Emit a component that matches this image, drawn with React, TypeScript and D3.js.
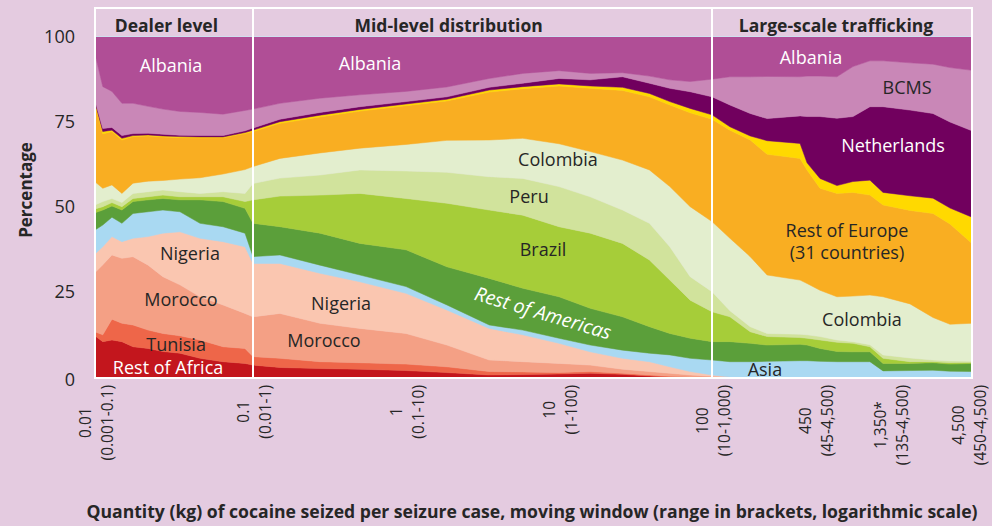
import React from 'react';
import * as d3 from 'd3';

// seizure size (kg), centre of the moving window
const sizes = [
  0.01, 0.0112, 0.0128, 0.0148, 0.0174, 0.0217, 0.0269, 0.0345, 0.0462, 0.0646, 0.089,
  0.1, 0.15, 0.274, 0.5, 1, 1.85, 3.5, 5.8, 10, 16, 26, 39, 53, 72, 100,
  130, 175, 224, 363, 402, 486, 623, 788, 1010, 1223, 1816, 2542, 3260, 4500,
];

// shares (%) by country of departure, bottom to top of the stack
const restOfAfrica = [12.1, 10.4, 10.9, 10.4, 8.9, 8.4, 7.5, 7.0, 5.5, 4.5, 4.0, 3.5, 2.8, 2.5, 2.3, 1.9, 1.3, 0.6, 0.7, 0.9, 1.1, 0.8, 0.3, 0, 0, 0, 0, 0, 0, 0, 0, 0, 0, 0, 0, 0, 0, 0, 0, 0];
const tunisia = [1.2, 2.0, 6.1, 5.4, 6.4, 5.4, 5.3, 5.1, 5.4, 4.4, 4.4, 2.5, 2.7, 2.0, 1.9, 1.9, 1.7, 1.0, 0.8, 0.4, 0.5, 0.3, 0.3, 0.2, 0, 0, 0, 0, 0, 0, 0, 0, 0, 0, 0, 0, 0, 0, 0, 0];
const morocco = [17.4, 20.6, 18.9, 19.1, 20.1, 19.1, 16.7, 15.0, 12.7, 12.3, 10.3, 11.7, 13.2, 11.3, 10.1, 9.0, 6.4, 3.4, 3.0, 2.7, 1.9, 1.2, 1.0, 0.9, 0.6, 0.2, 0, 0, 0, 0, 0, 0, 0, 0, 0, 0, 0, 0, 0, 0];
const nigeria = [5.5, 5.3, 5.4, 4.9, 5.4, 8.4, 12.8, 15.6, 17.2, 18.6, 19.6, 15.7, 14.7, 14.7, 13.7, 11.8, 10.3, 9.3, 7.9, 5.9, 3.9, 3.2, 2.9, 1.9, 1.0, 0.4, 0, 0, 0, 0, 0, 0, 0, 0, 0, 0, 0, 0, 0, 0];
const asia = [7.0, 6.4, 5.7, 5.4, 7.3, 7.3, 6.8, 5.9, 4.4, 4.4, 4.0, 2.0, 2.5, 2.4, 2.0, 2.0, 1.5, 1.0, 1.4, 1.5, 2.0, 2.4, 2.5, 3.5, 3.9, 4.4, 4.5, 4.5, 4.6, 4.8, 4.8, 4.6, 4.5, 4.5, 4.5, 1.8, 1.9, 2.0, 1.7, 1.6];
const restOfAmericas = [5.1, 4.4, 3.3, 3.9, 3.5, 3.5, 3.4, 3.5, 6.9, 7.4, 7.3, 9.8, 8.3, 9.4, 9.3, 10.8, 11.2, 13.7, 12.3, 12.2, 10.8, 9.8, 7.8, 6.3, 5.9, 5.4, 5.9, 5.4, 4.8, 4.8, 4.6, 3.8, 3.0, 2.9, 2.9, 2.2, 2.1, 2.2, 2.1, 2.4];
const brazil = [1.1, 1.0, 1.0, 1.0, 0.9, 0.9, 1.0, 0.9, 0.9, 1.4, 2.0, 6.9, 9.0, 11.2, 14.7, 15.1, 18.7, 20.1, 21.5, 20.6, 22.1, 21.6, 19.6, 15.7, 11.2, 8.8, 7.3, 3.4, 2.5, 2.0, 2.0, 2.5, 2.7, 2.5, 1.5, 1.5, 0.5, 0.3, 0.4, 0.3];
const peru = [1.2, 1.5, 1.2, 1.2, 1.5, 1.5, 1.5, 1.5, 1.0, 1.5, 2.4, 4.8, 5.3, 5.9, 6.9, 8.1, 9.1, 9.8, 10.8, 11.8, 10.7, 9.8, 10.8, 9.8, 6.9, 5.9, 1.8, 1.5, 0.9, 1.0, 1.0, 1.0, 0.7, 0.5, 0.6, 1.0, 1.1, 0.5, 0.5, 0.3];
const colombia = [6.8, 3.9, 4.0, 2.7, 3.0, 3.1, 2.8, 3.7, 4.6, 5.2, 7.0, 5.0, 5.8, 6.5, 6.4, 7.8, 9.4, 10.8, 11.8, 12.6, 13.3, 14.7, 15.7, 17.7, 20.6, 20.6, 21.3, 20.6, 17.2, 15.9, 15.1, 13.6, 12.7, 13.4, 14.6, 17.1, 15.9, 12.5, 10.8, 11.2];
const restOfEurope = [22.6, 16.0, 15.7, 15.7, 13.7, 13.3, 12.8, 12.2, 11.7, 10.7, 10.6, 10.3, 10.3, 10.6, 10.9, 11.4, 11.6, 14.1, 14.6, 17.0, 18.6, 20.5, 21.5, 24.0, 27.6, 30.1, 31.8, 34.3, 35.5, 35.8, 33.4, 30.0, 30.4, 30.5, 29.4, 27.0, 27.5, 30.6, 29.5, 23.5];
const yellowBand = [0.7, 0.7, 0.4, 0.5, 0.3, 0.3, 0.3, 0.3, 0.3, 0.2, 0.3, 0.4, 0.5, 0.5, 0.5, 0.5, 0.5, 0.6, 0.6, 0.6, 0.7, 0.9, 1.0, 1.0, 1.3, 1.3, 1.0, 1.2, 4.0, 4.4, 2.1, 2.9, 2.3, 3.2, 4.4, 3.7, 4.3, 4.5, 4.7, 7.7];
const netherlands = [0.6, 0.9, 0.8, 0.8, 0.6, 0.5, 0.5, 0.4, 0.4, 0.4, 0.5, 0.6, 0.7, 0.8, 0.8, 0.7, 0.7, 0.8, 1.0, 1.6, 1.8, 3.1, 3.0, 3.9, 4.9, 5.3, 6.4, 6.6, 6.5, 8.1, 13.6, 18.2, 19.8, 19.1, 21.6, 25.2, 25.2, 24.9, 25.3, 25.4];
const bcms = [13.7, 12.3, 10.6, 9.5, 8.9, 7.9, 7.4, 7.0, 6.8, 6.3, 6.0, 5.6, 4.7, 4.2, 3.5, 3.0, 2.9, 2.6, 2.9, 2.3, 1.9, 1.2, 2.1, 2.5, 3.0, 5.2, 8.3, 10.8, 12.4, 11.5, 11.9, 11.9, 12.2, 14.7, 13.5, 13.5, 13.9, 14.5, 16.0, 17.8];
const albania = [5.0, 14.6, 16.0, 19.5, 19.5, 20.4, 21.2, 21.9, 22.2, 22.7, 21.6, 21.2, 19.5, 18.0, 17.0, 16.0, 14.7, 12.2, 10.7, 9.9, 10.7, 10.5, 11.5, 12.6, 13.1, 12.4, 11.7, 11.7, 11.6, 11.7, 11.5, 11.5, 11.7, 8.7, 7.0, 7.0, 7.6, 8.0, 9.0, 9.8];

const series = [
  { key: 'restOfAfrica', values: restOfAfrica, color: '#C3161D' },
  { key: 'tunisia', values: tunisia, color: '#EE6649' },
  { key: 'morocco', values: morocco, color: '#F4A085' },
  { key: 'nigeria', values: nigeria, color: '#FAC6B0' },
  { key: 'asia', values: asia, color: '#A9D9F2' },
  { key: 'restOfAmericas', values: restOfAmericas, color: '#5B9F3A' },
  { key: 'brazil', values: brazil, color: '#A6CD39' },
  { key: 'peru', values: peru, color: '#D1E39C' },
  { key: 'colombia', values: colombia, color: '#E3EECE' },
  { key: 'restOfEurope', values: restOfEurope, color: '#F9AE22' },
  { key: 'yellowBand', values: yellowBand, color: '#FFD900' },
  { key: 'netherlands', values: netherlands, color: '#71005E' },
  { key: 'bcms', values: bcms, color: '#C987B7' },
  { key: 'albania', values: albania, color: '#B04E96' },
];

const yTicks = [0, 25, 50, 75, 100];
const xTickValues = [0.01, 0.1, 1, 10, 100, 450, 1350, 4500];
const xTickLabels = ['0.01', '0.1', '1', '10', '100', '450', '1,350*', '4,500'];
const xTickRanges = ['(0.001-0.1)', '(0.01-1)', '(0.1-10)', '(1-100)', '(10-1,000)', '(45-4,500)', '(135-4,500)', '(450-4,500)'];

const sections = [
  { name: 'Dealer level', labelAt: 0.0283 },
  { name: 'Mid-level distribution', labelAt: 1.9 },
  { name: 'Large-scale trafficking', labelAt: 614 },
];

// [text, kg, percent, light text?]
const areaLabels: [string, number, number, boolean][] = [
  ['Albania', 0.0303, 91.5, true],
  ['Albania', 0.582, 92.1, true],
  ['Albania', 426, 93.8, true],
  ['BCMS', 1738, 85, false],
  ['Netherlands', 1416, 67.9, true],
  ['Rest of Europe', 722, 43.0, false],
  ['(31 countries)', 722, 36.6, false],
  ['Colombia', 9.85, 63.8, false],
  ['Colombia', 899, 16.8, false],
  ['Peru', 6.37, 52.9, false],
  ['Brazil', 7.86, 37.4, false],
  ['Nigeria', 0.0399, 36.2, false],
  ['Nigeria', 0.376, 21.5, false],
  ['Morocco', 0.035, 22.6, false],
  ['Morocco', 0.291, 10.6, false],
  ['Tunisia', 0.0326, 9.4, false],
  ['Rest of Africa', 0.029, 2.6, true],
  ['Asia', 217, 2.1, false],
];

const FONT = '"Open Sans", sans-serif';
const DARK = '#262626';

let measureCtx: CanvasRenderingContext2D | null = null;
function textWidth(s: string, font: string) {
  if (!measureCtx) measureCtx = document.createElement('canvas').getContext('2d');
  if (!measureCtx) return s.length * 8;
  measureCtx.font = font;
  return measureCtx.measureText(s).width;
}

export default function App() {
  const width = 992;
  const height = 526;

  const x = d3.scaleLog().domain([0.01, 0.1, 100, 4500]).range([95, 253, 712, 972]);
  const y = d3.scaleLinear().domain([0, 100]).range([377, 37]);

  const rows = sizes.map((s, i) => {
    const row: any = { size: s };
    series.forEach(sr => { row[sr.key] = sr.values[i]; });
    return row;
  });
  const stacked = d3.stack<any>().keys(series.map(s => s.key))(rows);

  const area = d3.area<any>()
    .x(d => x(d.data.size))
    .y0(d => y(d[0]))
    .y1(d => y(d[1]));

  const frameTop = 8;
  const frameBottom = 378;
  const xLeft = x(0.01);
  const xRight = x(4500);
  const tickFont = 15.5;

  return (
    <div style={{ position: 'absolute', left: 0, top: 0 }}>
      <svg width={width} height={height} style={{ display: 'block', fontFamily: FONT }}>
        <rect width={width} height={height} fill="#E4CBE0" />

        {stacked.map((layer, i) => (
          <path key={layer.key} d={area(layer) || ''} fill={series[i].color}
            stroke={series[i].color} strokeWidth={0.5} />
        ))}

        {/* header strip + frame */}
        <line x1={xLeft} x2={xRight} y1={36.5} y2={36.5} stroke="#CFE0EE" strokeWidth={1} />
        <rect x={xLeft} y={frameTop} width={xRight - xLeft} height={frameBottom - frameTop}
          fill="none" stroke="#fff" strokeWidth={2} />
        {[0.1, 100].map(v => (
          <line key={v} x1={x(v)} x2={x(v)} y1={frameTop} y2={frameBottom} stroke="#fff" strokeWidth={2} />
        ))}
        {sections.map(s => (
          <text key={s.name} x={x(s.labelAt)} y={32} textAnchor="middle"
            fontSize={17.5} fontWeight="bold" fill={DARK}>{s.name}</text>
        ))}

        {/* y axis */}
        {yTicks.map(t => (
          <text key={t} x={75} y={y(t) + (t === 0 ? 3 : 0)} dy="0.35em" textAnchor="end"
            fontSize={18} fill={DARK}>{t}</text>
        ))}
        <text transform={`translate(26,190) rotate(-90)`} textAnchor="middle" dy="0.35em"
          fontSize={17} fontWeight="bold" fill={DARK}>Percentage</text>

        {/* x axis tick labels, two rotated lines each (kept inside the page edge) */}
        {xTickValues.map((v, i) => {
          const f = `${tickFont}px ${FONT}`;
          const len = Math.max(textWidth(xTickLabels[i], f), textWidth(xTickRanges[i], f));
          const cy = 385 + len / 2;
          const tx = Math.min(x(v), width - 24);
          return (
            <g key={v} transform={`translate(${tx},${cy}) rotate(-90)`} fontSize={tickFont} fill={DARK}>
              <text x={0} y={-10} textAnchor="middle" dominantBaseline="central">{xTickLabels[i]}</text>
              <text x={0} y={12} textAnchor="middle" dominantBaseline="central">{xTickRanges[i]}</text>
            </g>
          );
        })}
        <text x={532} y={518} textAnchor="middle" fontSize={17.6} fontWeight="bold" fill={DARK}>
          Quantity (kg) of cocaine seized per seizure case, moving window (range in brackets, logarithmic scale)
        </text>

        {/* area labels */}
        {areaLabels.map(([t, kg, p, light], i) => (
          <text key={i} x={x(kg)} y={y(p)} dy="0.35em" textAnchor="middle" fontSize={18}
            fill={light ? '#fff' : DARK}>{t}</text>
        ))}
        <text transform={`translate(${x(7.86)},${y(18.8)}) rotate(16.5)`} textAnchor="middle" dy="0.35em"
          fontSize={19.5} fontStyle="italic" fill="#fff">Rest of Americas</text>
      </svg>
    </div>
  );
}
